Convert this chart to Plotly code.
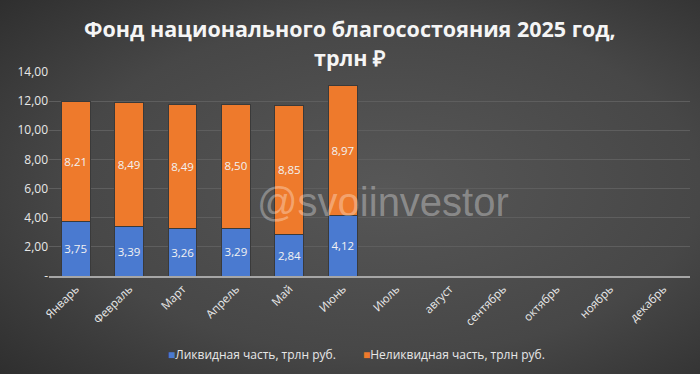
import base64
import plotly.graph_objects as go

months = ["Январь", "Февраль", "Март", "Апрель", "Май", "Июнь", "Июль",
          "август", "сентябрь", "октябрь", "ноябрь", "декабрь"]
liquid = [3.75, 3.39, 3.26, 3.29, 2.84, 4.12, None, None, None, None, None, None]
illiquid = [8.21, 8.49, 8.49, 8.50, 8.85, 8.97, None, None, None, None, None, None]
ytick_vals = [0, 2, 4, 6, 8, 10, 12, 14]
ytick_text = ["-", "2,00", "4,00", "6,00", "8,00", "10,00", "12,00", "14,00"]
series_names = ["Ликвидная часть, трлн руб.", "Неликвидная часть, трлн руб."]
series_colors = ["#4a7ad0", "#ee7a2c"]

def fmt(v):
    return "" if v is None else f"{v:.2f}".replace(".", ",")

font_main = "Open Sans"

fig = go.Figure()
for vals, name, col in zip([liquid, illiquid], series_names, series_colors):
    fig.add_trace(go.Bar(
        x=months, y=vals, name=name,
        marker=dict(color=col, line=dict(color="#3a3a3a", width=1)),
        text=[fmt(v) for v in vals], textposition="inside", insidetextanchor="middle",
        textangle=0,
        textfont=dict(color="#f2f2f2", size=12, family=font_main),
    ))

svg = """<svg xmlns='http://www.w3.org/2000/svg' width='700' height='374'>
<defs><radialGradient id='g' cx='0.55' cy='0.5' r='0.75'>
<stop offset='0' stop-color='#575757'/><stop offset='0.6' stop-color='#474747'/>
<stop offset='1' stop-color='#2e2e2e'/></radialGradient></defs>
<rect width='700' height='374' fill='url(#g)'/></svg>"""
bg = "data:image/svg+xml;base64," + base64.b64encode(svg.encode()).decode()

fig.update_layout(
    barmode="stack",
    bargap=0.46,
    width=700, height=374,
    paper_bgcolor="#444444", plot_bgcolor="rgba(0,0,0,0)",
    margin=dict(l=49, r=10, t=72, b=98, autoexpand=False),
    font=dict(family=font_main, color="#e8e8e8"),
    showlegend=False,
    uniformtext=dict(mode="show", minsize=8),
    images=[dict(source=bg, xref="paper", yref="paper", x=-49/641, y=1 + 72/204,
                 sizex=700/641, sizey=374/204, xanchor="left", yanchor="top",
                 sizing="stretch", layer="below")],
)
fig.update_yaxes(range=[0, 14], tickvals=ytick_vals, ticktext=ytick_text,
                 showgrid=True, gridcolor="#5e5e5e", gridwidth=1, zeroline=False,
                 tickfont=dict(size=12, color="#e8e8e8"), ticks="", showline=False,
                 automargin=False)
fig.update_xaxes(tickangle=-45, tickfont=dict(size=11.5, color="#e8e8e8"),
                 showline=True, linecolor="#a6a6a6", linewidth=1.5, ticks="",
                 categoryorder="array", categoryarray=months, automargin=False)

# title
fig.add_annotation(text="<b>Фонд национального благосостояния 2025 год,</b>",
                   xref="paper", yref="paper", x=(350 - 49) / 641, y=(276 - 28) / 204,
                   showarrow=False, xanchor="center", yanchor="middle",
                   font=dict(family=font_main, size=21.5, color="#f5f5f5"))
fig.add_annotation(text="<b>трлн ₽</b>",
                   xref="paper", yref="paper", x=(350 - 49) / 641, y=(276 - 57) / 204,
                   showarrow=False, xanchor="center", yanchor="middle",
                   font=dict(family=font_main, size=21.5, color="#f5f5f5"))

# legend drawn as text
legend_x = [166, 361]
for lx, name, col in zip(legend_x, series_names, series_colors):
    fig.add_annotation(text=f"<span style='color:{col}'>■</span>{name}",
                       xref="paper", yref="paper", x=(lx - 49) / 641, y=(276 - 354) / 204,
                       showarrow=False, xanchor="left", yanchor="middle",
                       font=dict(family=font_main, size=12, color="#e8e8e8"))

fig.add_annotation(text="@svoiinvestor", xref="paper", yref="paper",
                   x=(383 - 49) / 641, y=(276 - 202) / 204, showarrow=False,
                   xanchor="center", yanchor="middle",
                   font=dict(family="Liberation Sans", size=40, color="rgba(255,255,255,0.33)"))

fig.write_html("out.html", config={"displayModeBar": False},
               post_script="document.body.style.margin='0';")
